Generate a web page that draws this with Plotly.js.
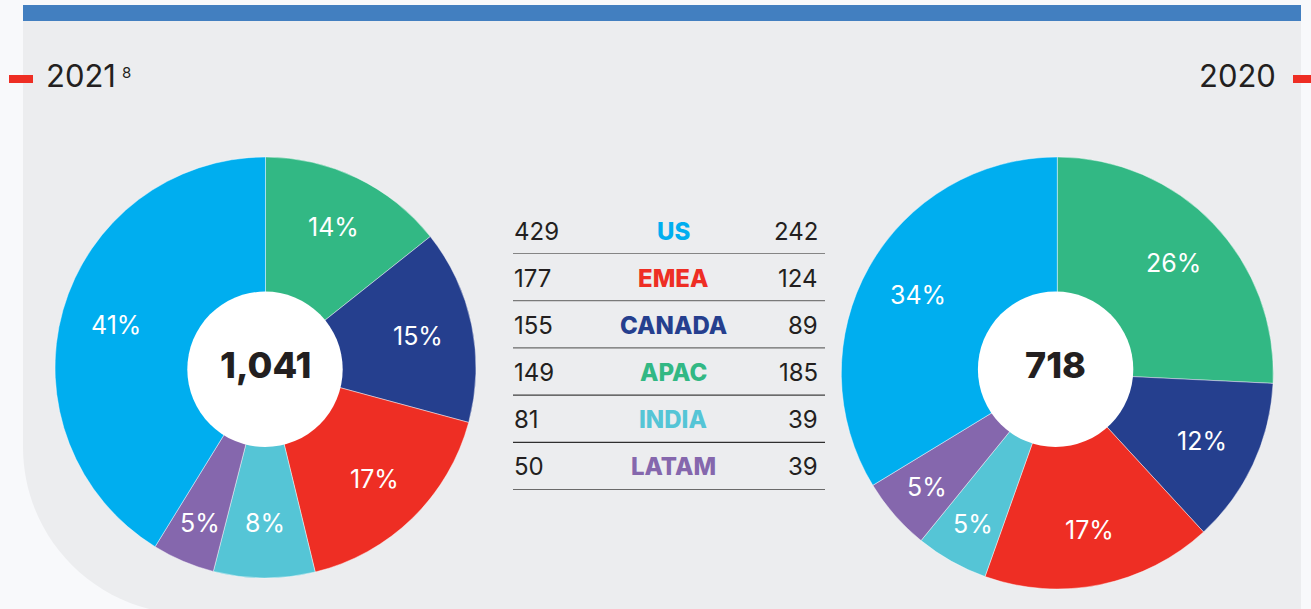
<!DOCTYPE html>
<html>
<head>
<meta charset="utf-8">
<script src="https://cdn.plot.ly/plotly-3.0.1.min.js"></script>
<style>
  html, body { margin: 0; padding: 0; background: #F8F9FB; }
  #chart { width: 1311px; height: 609px; }
</style>
</head>
<body>
<div id="chart"></div>
<script>
// ---- data ----
const regions = ['US', 'EMEA', 'CANADA', 'APAC', 'INDIA', 'LATAM'];
const values2021 = [429, 177, 155, 149, 81, 50];
const values2020 = [242, 124, 89, 185, 39, 39];
const regionColors = ['#00AEEF', '#EE2E24', '#253F8E', '#32B884', '#55C5D6', '#8567AD'];
const pieOrder = ['APAC', 'CANADA', 'EMEA', 'INDIA', 'LATAM', 'US'];
const yearLeft = '2021';
const yearLeftNote = '8';
const yearRight = '2020';

// ---- helpers ----
const W = 1311, H = 609;
const X = x => x / W;
const Y = y => 1 - y / H;
const FONT = 'Inter, "Noto Sans", Arial, sans-serif';
const DARK = '#231F20';

function ordered(vals) { return pieOrder.map(r => vals[regions.indexOf(r)]); }
function orderedColors() { return pieOrder.map(r => regionColors[regions.indexOf(r)]); }
const fmt = n => n.toLocaleString('en-US');

const pies = [
  { vals: values2021, cx: 265.5, cy: 367.5, r: 210.5, hx: 265, hy: 369.3, hr: 77.7 },
  { vals: values2020, cx: 1057.3, cy: 373, r: 216, hx: 1055.6, hy: 369.3, hr: 77.7 }
];

const traces = pies.map(p => {
  const v = ordered(p.vals);
  return {
    type: 'pie',
    labels: pieOrder,
    values: v,
    sort: false,
    direction: 'clockwise',
    rotation: 0,
    hole: 0.3,
    marker: { colors: orderedColors(), line: { color: 'rgba(255,255,255,0.55)', width: 0.8 } },
    textinfo: 'none',
    domain: { x: [X(p.cx - p.r), X(p.cx + p.r)], y: [Y(p.cy + p.r), Y(p.cy - p.r)] },
    hoverinfo: 'none',
    showlegend: false
  };
});

// ---- shapes ----
const R = 167, k = 0.5523;
const panelPath =
  `M ${X(23)},${Y(5)} L ${X(1301)},${Y(5)} L ${X(1301)},${Y(614)} L ${X(23 + R)},${Y(614)} ` +
  `C ${X(23 + R - R * k)},${Y(614)} ${X(23)},${Y(447 + R * k)} ${X(23)},${Y(447)} Z`;

const shapes = [
  { type: 'path', xref: 'paper', yref: 'paper', path: panelPath,
    fillcolor: '#ECEDEF', line: { width: 0 }, layer: 'below' },
  { type: 'rect', xref: 'paper', yref: 'paper', x0: X(23), x1: X(1301), y0: Y(21), y1: Y(5),
    fillcolor: '#427FC0', line: { width: 0 }, layer: 'below' },
  { type: 'rect', xref: 'paper', yref: 'paper', x0: X(9), x1: X(33), y0: Y(83), y1: Y(75),
    fillcolor: '#EE2E24', line: { width: 0 }, layer: 'below' },
  { type: 'rect', xref: 'paper', yref: 'paper', x0: X(1293), x1: X(1311), y0: Y(83), y1: Y(75),
    fillcolor: '#EE2E24', line: { width: 0 }, layer: 'below' }
];
pies.forEach(p => {
  shapes.push({ type: 'circle', xref: 'paper', yref: 'paper',
    x0: X(p.hx - p.hr), x1: X(p.hx + p.hr), y0: Y(p.hy + p.hr), y1: Y(p.hy - p.hr),
    fillcolor: '#FFFFFF', line: { width: 0 }, layer: 'above' });
});

// table rule lines
const lineColors = ['#858585', '#7a7a7a', '#6a6a6a', '#3f3f3f', '#2f2f2f', '#6a6a6a'];
const rowStep = 47.2;
regions.forEach((r, i) => {
  const ly = 253.5 + rowStep * i;
  shapes.push({ type: 'line', xref: 'paper', yref: 'paper', x0: X(513), x1: X(825), y0: Y(ly), y1: Y(ly),
                line: { color: lineColors[i], width: 1.2 } });
});

// ---- annotations ----
const annotations = [];

// slice percentage labels at each slice's mid-angle (narrow slices pushed outward), totals in the centre
pies.forEach(p => {
  const v = ordered(p.vals);
  const total = v.reduce((a, b) => a + b, 0);
  let cum = 0;
  v.forEach(val => {
    const frac = val / total;
    const mid = (cum + val / 2) / total * 2 * Math.PI;
    cum += val;
    const lr = p.r * (frac < 0.06 ? 0.8 : 0.74);
    const lx = p.cx + lr * Math.sin(mid);
    const ly = p.cy - lr * Math.cos(mid);
    annotations.push({ xref: 'paper', yref: 'paper', x: X(lx), y: Y(ly), xanchor: 'center', yanchor: 'middle',
      text: Math.round(frac * 100) + '%', showarrow: false,
      font: { family: FONT, size: 25, color: '#FFFFFF' } });
  });
  annotations.push({ xref: 'paper', yref: 'paper', x: X(p.hx), y: Y(p.hy - 4), xanchor: 'center', yanchor: 'middle',
    text: fmt(total), showarrow: false, font: { family: FONT, size: 36, color: DARK, weight: 800 } });
});

regions.forEach((r, i) => {
  const ty = 231 + rowStep * i;
  annotations.push({ xref: 'paper', yref: 'paper', x: X(512), y: Y(ty), xanchor: 'left', yanchor: 'middle',
    text: String(values2021[i]), showarrow: false, font: { family: FONT, size: 24, color: DARK } });
  annotations.push({ xref: 'paper', yref: 'paper', x: X(673), y: Y(ty), xanchor: 'center', yanchor: 'middle',
    text: r, showarrow: false, font: { family: FONT, size: 24, color: regionColors[i], weight: 800 } });
  annotations.push({ xref: 'paper', yref: 'paper', x: X(820), y: Y(ty), xanchor: 'right', yanchor: 'middle',
    text: String(values2020[i]), showarrow: false, font: { family: FONT, size: 24, color: DARK } });
});
annotations.push({ xref: 'paper', yref: 'paper', x: X(44), y: Y(76), xanchor: 'left', yanchor: 'middle',
  text: yearLeft, showarrow: false, font: { family: FONT, size: 31, color: DARK } });
annotations.push({ xref: 'paper', yref: 'paper', x: X(120), y: Y(72.5), xanchor: 'left', yanchor: 'middle',
  text: yearLeftNote, showarrow: false, font: { family: FONT, size: 15, color: DARK } });
annotations.push({ xref: 'paper', yref: 'paper', x: X(1278), y: Y(76), xanchor: 'right', yanchor: 'middle',
  text: yearRight, showarrow: false, font: { family: FONT, size: 31, color: DARK } });

const layout = {
  width: W, height: H,
  margin: { l: 0, r: 0, t: 0, b: 0 },
  paper_bgcolor: '#F8F9FB',
  plot_bgcolor: 'rgba(0,0,0,0)',
  showlegend: false,
  shapes: shapes,
  annotations: annotations,
  font: { family: FONT }
};

Plotly.newPlot('chart', traces, layout, { displayModeBar: false, staticPlot: true });
</script>
</body>
</html>
